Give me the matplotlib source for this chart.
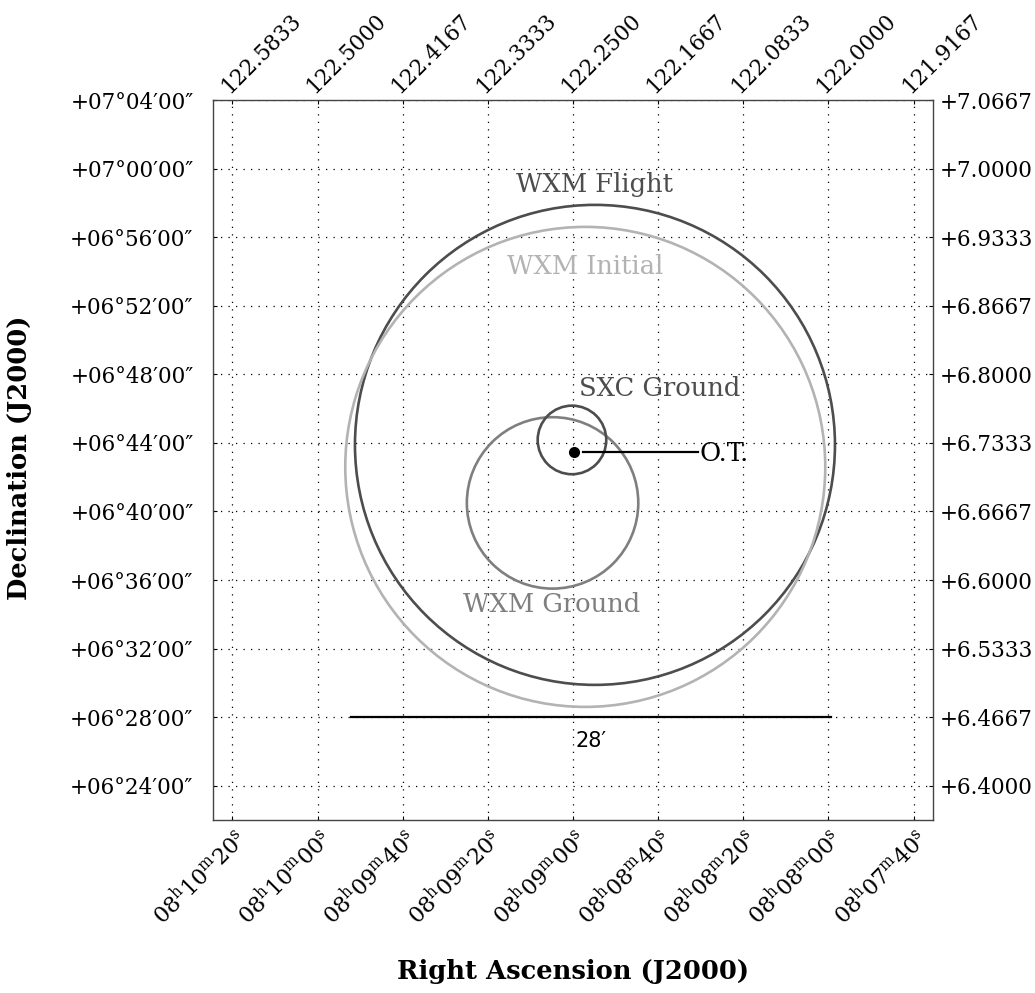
import numpy as np
import matplotlib.pyplot as plt
from matplotlib.patches import Ellipse

plt.rcParams['font.family'] = 'DejaVu Serif'
plt.rcParams['mathtext.fontset'] = 'dejavuserif'

# RA ticks (h, m, s) and Dec ticks (deg, arcmin)
ra_ticks_hms = [(8, 10, 20), (8, 10, 0), (8, 9, 40), (8, 9, 20), (8, 9, 0),
                (8, 8, 40), (8, 8, 20), (8, 8, 0), (8, 7, 40)]
dec_ticks_dm = [(6, 24), (6, 28), (6, 32), (6, 36), (6, 40), (6, 44),
                (6, 48), (6, 52), (6, 56), (7, 0), (7, 4)]

# error circles: name, RA (deg), Dec (deg), radius (arcmin), colour
circle_names = ['WXM Flight', 'WXM Initial', 'WXM Ground', 'SXC Ground']
circle_ra = [122.2285, 122.2380, 122.2700, 122.2510]
circle_dec = [6.7314, 6.7100, 6.6750, 6.7362]
circle_rad = [14.0, 14.0, 5.0, 2.0]
circle_col = ['#4d4d4d', '#b3b3b3', '#7f7f7f', '#4d4d4d']
label_ra = [122.2285, 122.2383, 122.2706, 122.1648]
label_dec = [6.9841, 6.9044, 6.5758, 6.7858]

# optical transient
ot_ra, ot_dec = 122.2490, 6.7246
ot_label_ra = 122.1257

# scale bar (arcmin)
bar_len = 28.0
bar_ra, bar_dec = 122.2324, 6.4667

# field of view
ra0, dec0 = 122.25, 6.7167
fov = 0.70
cosd = np.cos(np.radians(dec0))

ra_ticks = [(h + m / 60 + s / 3600) * 15 for h, m, s in ra_ticks_hms]
dec_ticks = [d + m / 60 for d, m in dec_ticks_dm]

fig = plt.figure(figsize=(10.35, 9.93), dpi=100)
ax = fig.add_axes([213 / 1035, 173 / 993, 720 / 1035, 720 / 993])
ax.set_xlim(ra0 + fov / 2 / cosd, ra0 - fov / 2 / cosd)
ax.set_ylim(dec0 - fov / 2, dec0 + fov / 2)

for sp in ax.spines.values():
    sp.set_color('#444444')
    sp.set_linewidth(1.0)

ax.set_xticks(ra_ticks)
ax.set_xticklabels([r'%02d$^{\rm h}$%02d$^{\rm m}$%02d$^{\rm s}$' % t for t in ra_ticks_hms])
ax.set_yticks(dec_ticks)
ax.set_yticklabels(['+%02d\u00b0%02d\u203200\u2033' % t for t in dec_ticks_dm])
ax.tick_params(direction='in', length=3, color='black')
ax.tick_params(axis='x', labelsize=16, pad=4)
ax.tick_params(axis='y', labelsize=15.5, pad=14)
plt.setp(ax.get_xticklabels(), rotation=45, ha='right', va='top', rotation_mode='anchor')

top = ax.secondary_xaxis('top')
top.set_xticks(ra_ticks)
top.set_xticklabels(['%.4f' % v for v in ra_ticks])
top.tick_params(direction='in', length=3, labelsize=15.5, pad=2)
plt.setp(top.get_xticklabels(), rotation=45, ha='left', va='bottom', rotation_mode='anchor')

right = ax.secondary_yaxis('right')
right.set_yticks(dec_ticks)
right.set_yticklabels(['%+.4f' % v for v in dec_ticks])
right.tick_params(direction='in', length=3, labelsize=15.5, pad=5)
for s in list(top.spines.values()) + list(right.spines.values()):
    s.set_visible(False)

ax.grid(True, color='black', linestyle=(0, (1, 5)), linewidth=0.9)

# circles
for ra, dec, r, c in zip(circle_ra, circle_dec, circle_rad, circle_col):
    w = 2 * r / 60 / cosd
    h = 2 * r / 60
    ax.add_patch(Ellipse((ra, dec), w, h, fill=False, edgecolor=c, linewidth=1.9, zorder=3))

for name, x, y, c in zip(circle_names, label_ra, label_dec, circle_col):
    ax.text(x, y, name, color=c, fontsize=18.5, ha='center', va='center', zorder=4)

# optical transient
ax.plot([ot_ra], [ot_dec], 'o', color='black', markersize=7, zorder=5)
ax.plot([ot_ra - 0.0090, ot_label_ra + 0.0019], [ot_dec, ot_dec], color='black', linewidth=1.6, zorder=5)
ax.text(ot_label_ra, ot_dec - 0.002, 'O.T.', color='black', fontsize=18.5, ha='left', va='center', zorder=5)

# scale bar
half = bar_len / 2 / 60 / cosd
ax.plot([bar_ra + half, bar_ra - half], [bar_dec, bar_dec], color='black', linewidth=1.6, zorder=5)
ax.text(bar_ra, 6.4436, "%d\u2032" % bar_len, family='DejaVu Sans', fontsize=15, ha='center', va='center', zorder=5)

fig.text(573 / 1035, 1 - 972 / 993, 'Right Ascension (J2000)', fontsize=18.5,
         fontweight='bold', ha='center', va='center')
fig.text(20 / 1035, 1 - 458 / 993, 'Declination (J2000)', fontsize=18.5,
         fontweight='bold', ha='center', va='center', rotation=90)

fig.savefig('out.png', dpi=100)
